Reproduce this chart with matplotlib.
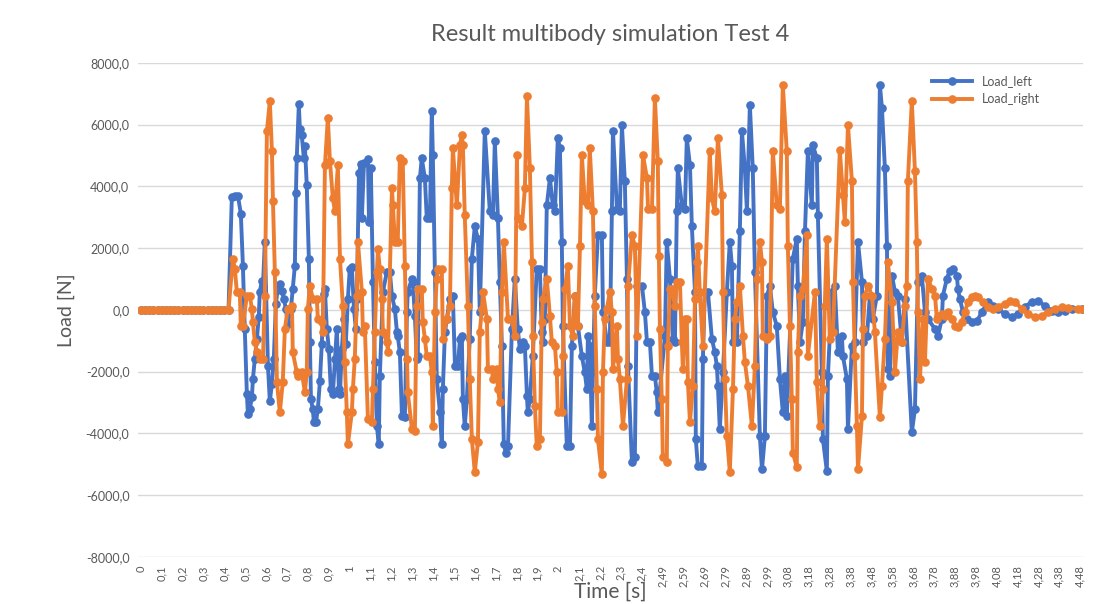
import matplotlib.pyplot as plt
import numpy as np

plt.rcParams['font.family'] = ['Lato', 'DejaVu Sans']

tick_labels = ['0', '0,1', '0,2', '0,3', '0,4', '0,5', '0,6', '0,7', '0,8', '0,9', '1',
               '1,1', '1,2', '1,3', '1,4', '1,5', '1,6', '1,7', '1,8', '1,9', '2',
               '2,1', '2,2', '2,3', '2,4', '2,49', '2,59', '2,69', '2,79', '2,89', '2,99',
               '3,08', '3,18', '3,28', '3,38', '3,48', '3,58', '3,68', '3,78', '3,88', '3,98',
               '4,08', '4,18', '4,28', '4,38', '4,48']

# quiet phase before the excitation starts (both sides ~0 N)
flat_t = [0.0, 0.02, 0.04, 0.06, 0.08, 0.10, 0.12, 0.14, 0.16, 0.18, 0.20,
          0.22, 0.24, 0.26, 0.28, 0.30, 0.32, 0.34, 0.36, 0.38, 0.40, 0.42]
flat_v = [0, 0, 0, 0, 0, 0, 0, 0, 0, 0, 0, 0, 0, 0, 0, 0, 0, 0, 0, 0, 0, 0]

left_t = [0.436, 0.450, 0.465, 0.479, 0.489, 0.498, 0.508, 0.513, 0.522, 0.532,
          0.537, 0.546, 0.556, 0.565, 0.570, 0.580, 0.585, 0.594, 0.609, 0.618,
          0.628, 0.637, 0.647, 0.656, 0.666, 0.676, 0.685, 0.695, 0.704, 0.719,
          0.728, 0.738, 0.743, 0.747, 0.757, 0.762, 0.771, 0.781, 0.786, 0.795,
          0.805, 0.810, 0.815, 0.824, 0.829, 0.839, 0.848, 0.858, 0.867, 0.877,
          0.882, 0.891, 0.901, 0.910, 0.920, 0.930, 0.939, 0.949, 0.954, 0.963,
          0.973, 0.982, 0.992, 1.001, 1.011, 1.021, 1.030, 1.035, 1.045, 1.054,
          1.059, 1.069, 1.088, 1.093, 1.102, 1.112, 1.121, 1.131, 1.140, 1.145,
          1.160, 1.179, 1.193, 1.203, 1.217, 1.227, 1.231, 1.241, 1.251, 1.265,
          1.275, 1.279, 1.299, 1.303, 1.313, 1.322, 1.327, 1.337, 1.346, 1.361,
          1.370, 1.385, 1.394, 1.399, 1.409, 1.418, 1.433, 1.442, 1.447, 1.457,
          1.466, 1.481, 1.495, 1.505, 1.519, 1.529, 1.538, 1.543, 1.552, 1.562,
          1.576, 1.586, 1.600, 1.615, 1.624, 1.648, 1.672, 1.687, 1.696, 1.711,
          1.720, 1.730, 1.739, 1.749, 1.759, 1.778, 1.792, 1.806, 1.816, 1.830,
          1.840, 1.850, 1.854, 1.864, 1.878, 1.897, 1.912, 1.921, 1.926, 1.936,
          1.945, 1.960, 1.974, 1.984, 1.998, 2.008, 2.017, 2.022, 2.041, 2.056,
          2.065, 2.080, 2.094, 2.113, 2.127, 2.137, 2.142, 2.151, 2.161, 2.166,
          2.175, 2.190, 2.209, 2.214, 2.233, 2.247, 2.257, 2.262, 2.281, 2.295,
          2.305, 2.319, 2.329, 2.334, 2.353, 2.367, 2.377, 2.401, 2.415, 2.425,
          2.439, 2.449, 2.463, 2.472, 2.477, 2.511, 2.520, 2.535, 2.549, 2.559,
          2.568, 2.573, 2.592, 2.607, 2.616, 2.631, 2.640, 2.655, 2.659, 2.669,
          2.688, 2.693, 2.702, 2.717, 2.736, 2.750, 2.760, 2.765, 2.774, 2.789,
          2.808, 2.822, 2.832, 2.837, 2.856, 2.870, 2.880, 2.894, 2.904, 2.918,
          2.932, 2.942, 2.966, 2.976, 2.990, 3.000, 3.014, 3.028, 3.047, 3.062,
          3.076, 3.086, 3.095, 3.124, 3.143, 3.148, 3.158, 3.172, 3.182, 3.196,
          3.215, 3.220, 3.239, 3.244, 3.263, 3.268, 3.287, 3.292, 3.311, 3.325,
          3.340, 3.359, 3.364, 3.383, 3.388, 3.407, 3.421, 3.436, 3.455, 3.460,
          3.479, 3.493, 3.507, 3.527, 3.541, 3.551, 3.565, 3.575, 3.579, 3.589,
          3.599, 3.613, 3.627, 3.646, 3.661, 3.694, 3.709, 3.723, 3.742, 3.757,
          3.771, 3.805, 3.819, 3.838, 3.843, 3.862, 3.876, 3.891, 3.910, 3.915,
          3.924, 3.939, 3.958, 3.982, 4.006, 4.030, 4.058, 4.082, 4.106, 4.140,
          4.174, 4.202, 4.236, 4.269, 4.298, 4.332, 4.365, 4.394, 4.427, 4.461,
          4.509]
left_v = [3670, 3700, 3700, 3120, 1430, -620, -2730, -3380, -3220, -2830,
          -2240, -1590, -940, -230, 590, 940, 750, 2210, -1820, -2960,
          -2400, -1590, 200, 680, 850, 620, 360, 30, -460, 30,
          680, 1430, 3770, 4910, 6660, 5850, 5660, 4910, 5300, 4030,
          1660, -1040, -2890, -3220, -3640, -3640, -3220, -2310, -1100, 520,
          680, -620, -1270, -2570, -2730, -1590, -620, -2570, -2730, -1270,
          -290, -1100, 360, 1330, 1400, 30, -620, 360, 4420, 4710,
          2960, 4750, 4900, 2860, 4580, 910, -1690, -3770, -4360, -2150,
          590, 1240, 1240, 460, 30, -720, -850, -1370, -3450, -3480,
          -70, 590, 1010, 910, -200, -1590, -1500, 4260, 4910, 4260,
          2960, 2960, 6440, 5010, 1240, -2240, -3320, -4360, -2570, -720,
          -290, 360, 460, -1820, -1820, -940, -850, -2890, -3770, -2890,
          -940, 1660, 2700, 2310, -70, 5790, 3190, 3060, 5460, 2960,
          910, -1170, -4360, -4620, -4420, -620, 1010, -620, -1270, -1040,
          -1170, -2800, -3320, -2890, -1500, 1330, 1330, -720, -1040, -290,
          3380, 4260, 3380, 3190, 5560, 5230, 2210, -520, -4420, -4420,
          -1170, 460, -520, -1500, -2020, -2570, -850, -1170, -3770, -2020,
          460, 2410, 2410, -70, -1040, -1040, 3190, 5790, 3280, 3190,
          5980, 4160, 1010, -1820, -4940, -4750, 780, 780, -70, -1040,
          -1040, -2150, -2150, -2670, -3320, -850, 2210, 1010, -940, -1040,
          3190, 4580, 3380, 3280, 5560, 4680, 2730, 590, -4190, -5070,
          -5070, -1590, 590, 590, -940, -1370, -1820, -2470, -3870, -2020,
          590, 2210, 1430, -1040, -1040, 2540, 5790, 4580, 3190, 6630,
          4580, 1240, -4100, -5170, -4100, 460, 780, -70, -520, -2240,
          -3320, -2150, -3450, 1660, 2310, 780, -1040, -390, 2540, 5140,
          3380, 5330, 4910, 3060, -2020, -4190, -5230, -2150, 590, 780,
          -1370, -850, -1500, -2240, -3870, -1170, -1040, 2210, 910, -1040,
          -850, 460, -290, 460, 7280, 6530, 4580, 2080, -1920, -2150,
          1110, 590, 460, -1040, 360, -3970, -3220, 910, 1110, -70,
          -290, -620, -850, -290, 460, 1010, 1270, 1330, 1110, 680,
          360, -70, -290, -390, -360, -70, 260, 130, 30, -130,
          -230, -130, 100, 260, 290, 130, -30, -70, -30, 30,
          30]

right_t = [0.441, 0.450, 0.460, 0.474, 0.479, 0.489, 0.508, 0.522, 0.532, 0.537,
           0.546, 0.556, 0.570, 0.585, 0.594, 0.604, 0.618, 0.628, 0.633, 0.642,
           0.652, 0.666, 0.680, 0.690, 0.704, 0.724, 0.728, 0.747, 0.752, 0.771,
           0.786, 0.795, 0.800, 0.810, 0.824, 0.843, 0.848, 0.867, 0.872, 0.882,
           0.896, 0.906, 0.920, 0.930, 0.944, 0.954, 0.968, 0.977, 0.987, 0.992,
           1.011, 1.016, 1.025, 1.035, 1.040, 1.059, 1.064, 1.073, 1.088, 1.107,
           1.112, 1.121, 1.131, 1.136, 1.145, 1.155, 1.160, 1.179, 1.184, 1.203,
           1.208, 1.217, 1.231, 1.241, 1.255, 1.265, 1.275, 1.279, 1.299, 1.313,
           1.322, 1.327, 1.346, 1.351, 1.361, 1.370, 1.385, 1.394, 1.399, 1.409,
           1.418, 1.423, 1.442, 1.447, 1.466, 1.481, 1.490, 1.495, 1.514, 1.529,
           1.538, 1.543, 1.552, 1.567, 1.576, 1.586, 1.600, 1.615, 1.624, 1.634,
           1.639, 1.658, 1.663, 1.682, 1.687, 1.706, 1.711, 1.720, 1.730, 1.739,
           1.759, 1.778, 1.792, 1.802, 1.806, 1.826, 1.840, 1.850, 1.864, 1.874,
           1.878, 1.888, 1.897, 1.912, 1.921, 1.926, 1.945, 1.960, 1.969, 1.984,
           1.993, 1.998, 2.017, 2.022, 2.032, 2.046, 2.056, 2.070, 2.080, 2.094,
           2.104, 2.113, 2.127, 2.142, 2.151, 2.166, 2.175, 2.185, 2.190, 2.209,
           2.214, 2.223, 2.233, 2.247, 2.257, 2.262, 2.281, 2.286, 2.295, 2.310,
           2.329, 2.334, 2.353, 2.367, 2.377, 2.406, 2.425, 2.430, 2.449, 2.463,
           2.477, 2.482, 2.487, 2.496, 2.501, 2.520, 2.525, 2.535, 2.544, 2.559,
           2.568, 2.583, 2.592, 2.597, 2.607, 2.616, 2.621, 2.631, 2.645, 2.655,
           2.664, 2.669, 2.678, 2.693, 2.726, 2.736, 2.750, 2.765, 2.784, 2.789,
           2.798, 2.808, 2.822, 2.837, 2.846, 2.856, 2.870, 2.885, 2.894, 2.909,
           2.928, 2.942, 2.952, 2.966, 2.976, 2.980, 3.000, 3.014, 3.028, 3.047,
           3.062, 3.076, 3.095, 3.100, 3.110, 3.119, 3.124, 3.143, 3.148, 3.158,
           3.172, 3.191, 3.196, 3.230, 3.239, 3.253, 3.268, 3.277, 3.287, 3.301,
           3.316, 3.349, 3.364, 3.373, 3.388, 3.407, 3.412, 3.421, 3.431, 3.436,
           3.455, 3.460, 3.469, 3.484, 3.503, 3.517, 3.541, 3.551, 3.565, 3.579,
           3.599, 3.613, 3.627, 3.646, 3.661, 3.670, 3.675, 3.694, 3.709, 3.718,
           3.723, 3.733, 3.747, 3.757, 3.771, 3.790, 3.805, 3.814, 3.819, 3.838,
           3.853, 3.867, 3.886, 3.901, 3.915, 3.934, 3.948, 3.963, 3.982, 3.996,
           4.011, 4.034, 4.058, 4.082, 4.106, 4.140, 4.164, 4.188, 4.221, 4.250,
           4.284, 4.317, 4.346, 4.380, 4.413, 4.442, 4.490, 4.514]
right_v = [1660, 1330, 590, 590, -520, -520, 460, 460, 30, -390,
           -1040, -1370, -1590, -1590, 460, 5790, 6760, 5140, 3510, 1240,
           -2340, -3320, -2340, -620, 30, 130, -1370, -2020, -2150, -2020,
           -2670, -2020, 30, 780, 360, 360, -290, -390, -720, 4680,
           6210, 4810, 3610, 3190, 4680, 1660, 130, -1690, -3320, -4360,
           -3320, -2570, -1590, 460, 2210, 590, -720, -520, -3540, -3640,
           -2570, -720, 1240, 1980, 1330, 360, -720, -1040, -1370, 3930,
           3380, 2210, 2210, 4910, 4810, 1430, -1590, -2670, -3870, -3930,
           130, 680, 680, -390, -940, -1500, -1500, -2020, -3770, -70,
           1010, 1330, 1330, -940, -290, 130, 3930, 5230, 3380, 5330,
           5660, 5330, 3060, 130, -2240, -4190, -5260, -4290, -720, 30,
           590, -290, -1920, -1920, -2240, -1920, -2570, -2990, 590, 2210,
           -290, -290, -850, 5010, 2960, 2730, 3930, 6920, 4580, 1560,
           -850, -3120, -4420, -4190, -390, 360, 1010, -200, -1040, -1170,
           -2020, -3320, -3320, -1500, 680, 1430, -520, -850, 460, -520,
           2080, 5010, 3510, 3380, 5230, 3190, 130, -2570, -4190, -5330,
           -2020, -290, 30, 590, -70, -1920, -520, -1590, -2240, -3770,
           -2240, 780, 2410, 2080, -850, 5010, 4260, 3280, 3280, 6860,
           4810, 1760, -620, -2890, -4750, -4940, -1170, 680, 680, 130,
           910, 910, -1040, -1920, -290, -290, -2340, -3640, -2470, 360,
           1560, 2080, 590, -1170, 5140, 3610, 3190, 5560, 3710, 590,
           -2240, -4100, -5260, -2570, -290, 260, 780, -850, -1690, -2470,
           -3770, -1820, 1010, 2210, 1560, -850, -940, -850, 5140, 3380,
           3280, 7280, 5140, 2080, -520, -2890, -4620, -5100, -1370, 460,
           680, 2410, -1500, 590, -2340, -3770, -2570, 130, 2310, -940,
           -720, 5170, 3710, 2860, 5980, 4160, 910, -1500, -3770, -5170,
           -3450, -620, 460, 780, 460, -720, -3480, -2470, -940, 1560,
           260, -2020, -720, -1040, 130, 780, 4160, 6760, 4490, 2210,
           -70, -2240, -290, -1690, 1010, 680, 460, -290, -200, -130,
           -200, -70, -290, -520, -550, -390, -70, 260, 420, 460,
           420, 260, 100, 30, 100, 200, 290, 260, 30, -130,
           -230, -200, -70, 30, 100, 60, 30, 30]

fig = plt.figure(figsize=(10.93, 6.04), dpi=100)
ax = fig.add_axes([0.126, 0.078, 0.865, 0.818])

blue = '#4472C4'
orange = '#ED7D31'
ax.plot(flat_t + left_t, flat_v + left_v, color=blue, lw=2.8, marker='o', ms=5.2,
        label='Load_left', zorder=3)
ax.plot(flat_t + right_t, flat_v + right_v, color=orange, lw=2.8, marker='o', ms=5.2,
        label='Load_right', zorder=4)

ax.set_xlim(-0.015, 4.515)
ax.set_ylim(-8000, 8000)
yt = np.arange(-8000, 8001, 2000)
ax.set_yticks(yt)
ax.set_yticklabels([('%.1f' % v).replace('.', ',') for v in yt], fontsize=9, color='#595959')
ax.set_xticks(np.arange(len(tick_labels)) * 0.1)
ax.set_xticklabels(tick_labels, rotation=90, fontsize=8, color='#595959')
ax.tick_params(length=0, pad=6)

ax.grid(axis='y', color='#D9D9D9', lw=1)
ax.set_axisbelow(True)
for s in ax.spines.values():
    s.set_visible(False)

ax.set_title('Result multibody simulation Test 4', fontsize=17, color='#595959', pad=16)
ax.set_xlabel('Time [s]', fontsize=15, color='#595959', va='center')
ax.xaxis.set_label_coords(0.5, -0.071)
ax.set_ylabel('Load [N]', fontsize=14, color='#595959', labelpad=8)

ax.legend(loc='upper left', bbox_to_anchor=(0.835, 0.985), frameon=False,
          fontsize=9, labelcolor='#595959', handlelength=3.2, borderaxespad=0)

fig.savefig('out.png', dpi=100)
